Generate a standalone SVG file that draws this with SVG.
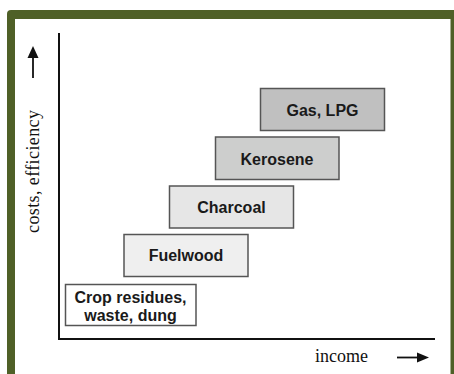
<svg xmlns="http://www.w3.org/2000/svg" width="454" height="374" viewBox="0 0 454 374">
<defs>
<style>
.box{stroke:#555;stroke-width:1.5}
.lbl{font-family:"Liberation Sans",Arial,sans-serif;font-weight:bold;font-size:16px;fill:#1a1a1a;text-anchor:middle}
.ax{font-family:"Liberation Serif","Times New Roman",serif;font-size:18px;fill:#111}
.axis{stroke:#111;stroke-width:2;fill:none}
.arr{stroke:#111;stroke-width:1.8}
</style>
</defs>
<rect x="0" y="0" width="454" height="374" fill="#fff"/>
<rect x="7" y="10" width="470" height="390" rx="4" fill="#4f6027"/>
<rect x="15" y="19" width="435.5" height="370" fill="#fff"/>
<g id="connectors">
<path class="axis" d="M59 33 V339 H435"/>
<line class="arr" x1="33" y1="78" x2="33" y2="56"/>
<polygon points="33,46 27.5,58 38.5,58" fill="#111"/>
<line class="arr" x1="397" y1="357.5" x2="420" y2="357.5"/>
<polygon points="429,357.5 417,352.5 417,362.5" fill="#111"/>
</g>
<g id="axis-labels">
<text class="ax" transform="translate(39,233) rotate(-90)" textLength="123" lengthAdjust="spacing">costs, efficiency</text>
<text class="ax" x="315" y="362">income</text>
</g>
<g id="gas">
<rect class="box" x="260.5" y="88.5" width="124" height="42" fill="#c0c0c0"/>
<text class="lbl" x="322.5" y="115.5">Gas, LPG</text>
</g>
<g id="kerosene">
<rect class="box" x="215.5" y="137" width="123.5" height="42.5" fill="#cdcecd"/>
<text class="lbl" x="277" y="164.5">Kerosene</text>
</g>
<g id="charcoal">
<rect class="box" x="169.5" y="186" width="124" height="42" fill="#e6e6e6"/>
<text class="lbl" x="231.5" y="213">Charcoal</text>
</g>
<g id="fuelwood">
<rect class="box" x="124" y="234.5" width="124" height="42" fill="#efefef"/>
<text class="lbl" x="186" y="261">Fuelwood</text>
</g>
<g id="crop">
<rect class="box" x="65.5" y="284.5" width="130.5" height="41" fill="#fff"/>
<text class="lbl" x="130.5" y="303">Crop residues,</text>
<text class="lbl" x="130.5" y="321">waste, dung</text>
</g>
</svg>
